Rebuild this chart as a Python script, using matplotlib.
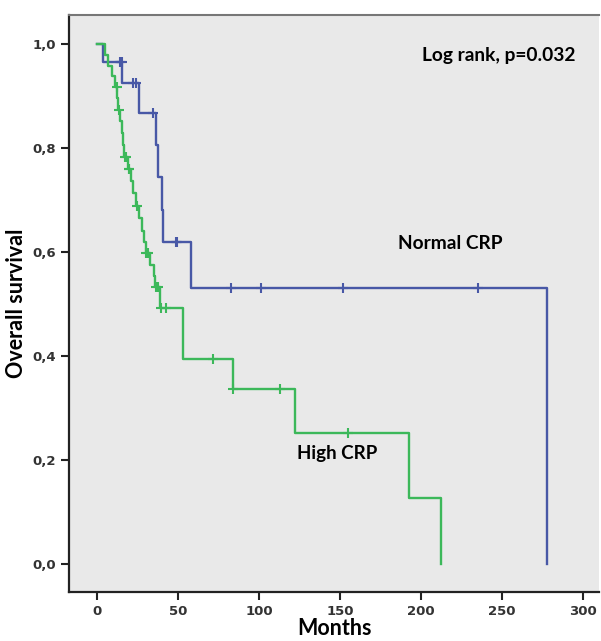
import numpy as np
import matplotlib.pyplot as plt

# Kaplan-Meier steps (months, survival after event)
normal_times = [0, 3.5, 15.6, 26, 36.4, 37.5, 40, 40.8, 58, 278]
normal_surv = [1.0, 0.964, 0.924, 0.867, 0.805, 0.744, 0.681, 0.618, 0.530, 0.0]
normal_censored = [14.2, 15.0, 15.4, 22.4, 24, 34.4, 49, 49.6, 83, 101, 152, 235]

high_times = [0, 5, 7, 9.5, 11, 12.5, 13, 14.5, 15.5, 16, 16.5, 19, 21, 22.5, 24,
              26, 27.5, 29, 30, 33, 35, 36, 39, 53, 83.7, 122, 192.5, 212.3]
high_surv = [1.0, 0.979, 0.958, 0.937, 0.916, 0.895, 0.873, 0.851, 0.829, 0.806,
             0.783, 0.760, 0.736, 0.712, 0.688, 0.664, 0.640, 0.618, 0.597, 0.575,
             0.554, 0.533, 0.491, 0.393, 0.336, 0.252, 0.126, 0.0]
high_censored = [12.1, 13.8, 17, 18, 19.5, 20, 24.9, 30.2, 31.5, 36.4, 37.5,
                 39.5, 42.6, 71.8, 84, 113, 155]

x_ticks = [0, 50, 100, 150, 200, 250, 300]
y_ticks = [0.0, 0.2, 0.4, 0.6, 0.8, 1.0]
y_labels = ['0,0', '0,2', '0,4', '0,6', '0,8', '1,0']

blue = '#4858a6'
green = '#3cb85a'
label_font = ['Lato', 'DejaVu Sans']


def surv_at(times, surv, t):
    i = np.searchsorted(times, t, side='right') - 1
    return surv[i]


fig = plt.figure(figsize=(6.01, 6.41), dpi=100)
ax = fig.add_axes([0.1156, 0.0765, 0.881, 0.900])
ax.set_facecolor('#e9e9e9')

for times, surv, cens, col in [(normal_times, normal_surv, normal_censored, blue),
                               (high_times, high_surv, high_censored, green)]:
    ax.step(times, surv, where='post', color=col, lw=1.7)
    cy = [surv_at(times, surv, t) for t in cens]
    ax.plot(cens, cy, '+', color=col, ms=6.5, mew=1.5)

ax.set_xlim(-17, 310)
ax.set_ylim(-0.054, 1.055)
ax.set_xticks(x_ticks)
ax.set_xticklabels([str(v) for v in x_ticks])
ax.set_yticks(y_ticks)
ax.set_yticklabels(y_labels)
ax.tick_params(direction='out', length=6, width=1.5, color='#222222',
               labelsize=9.5, labelcolor='#333333')
for lab in ax.get_xticklabels() + ax.get_yticklabels():
    lab.set_fontweight('bold')

for side in ['left', 'bottom']:
    ax.spines[side].set_linewidth(1.6)
    ax.spines[side].set_color('#222222')
ax.spines['top'].set_color('#777777')
ax.spines['top'].set_linewidth(1.5)
ax.spines['right'].set_visible(False)

ax.set_xlabel('Months', fontsize=15.5, fontweight='bold', family=label_font, labelpad=0)
ax.set_ylabel('Overall survival', fontsize=15.5, fontweight='bold', family=label_font, labelpad=4)

ax.text(248, 0.977, 'Log rank, p=0.032', ha='center', va='center',
        fontsize=13.8, fontweight='bold', family=label_font)
ax.text(218, 0.615, 'Normal CRP', ha='center', va='center',
        fontsize=13.8, fontweight='bold', family=label_font)
ax.text(148.5, 0.213, 'High CRP', ha='center', va='center',
        fontsize=13.5, fontweight='bold', family=label_font)

fig.savefig('out.png', dpi=100)
